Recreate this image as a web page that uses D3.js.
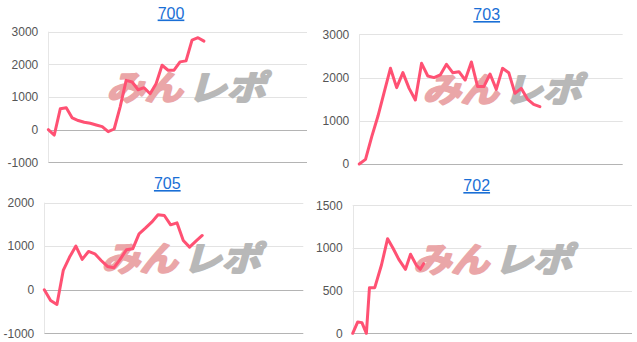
<!DOCTYPE html>
<html><head><meta charset="utf-8">
<script src="https://cdn.jsdelivr.net/npm/d3@7"></script>
<style>
html,body{margin:0;padding:0;background:#fff;}
svg{display:block;}
</style></head>
<body>
<svg id="c" width="637" height="342"></svg>
<script>
// ---- data ----
const titles = ["700", "703", "705", "702"];
const values700 = [0,-165,637,668,360,280,226,195,144,92,-62,20,700,1510,1460,1223,1285,1100,1408,1973,1820,1820,2076,2107,2744,2816,2713];
const values703 = [0,108,632,1110,1660,2213,1766,2113,1750,1480,2328,2036,1998,2059,2306,2113,2136,1943,2360,1790,1790,2082,1727,2213,2113,1635,1750,1503,1380,1326];
const values705 = [0,-245,-337,444,750,1003,697,880,826,673,536,505,697,919,941,1285,1415,1553,1721,1706,1492,1538,1132,979,1117,1247];
const values702 = [0,133,125,0,535,535,800,1109,1000,867,750,926,797,750,816];
const x702 = [0,1.8,3.3,4.9,6.0,7.9,10.3,12.5,14.4,16.5,18.9,20.7,22.8,24.2,25.4];
const ticks700 = [-1000,0,1000,2000,3000];
const ticks703 = [0,1000,2000,3000];
const ticks705 = [-1000,0,1000,2000];
const ticks702 = [0,500,1000,1500];

// ---- layout ----
const panels = [
  {title:titles[0], vals:values700, xs:values700.map((d,i)=>i), xMax:43.2, ticks:ticks700,
   l:48.3, r:307, t:31.7, b:162.3, tx:171, ty:18.5, wx:188, wy:88},
  {title:titles[1], vals:values703, xs:values703.map((d,i)=>i), xMax:42.3, ticks:ticks703,
   l:359.3, r:622.7, t:34.3, b:164, tx:486.7, ty:20, wx:504, wy:90},
  {title:titles[2], vals:values705, xs:values705.map((d,i)=>i), xMax:41.0, ticks:ticks705,
   l:44.3, r:303.3, t:202.7, b:333.3, tx:167.3, ty:189, wx:183, wy:258.5},
  {title:titles[3], vals:values702, xs:x702, xMax:100, ticks:ticks702,
   l:352.7, r:632, t:205.3, b:333.3, tx:476.7, ty:191, wx:494.5, wy:259.5}
];

const svg = d3.select("#c");
const font = "Arial, 'Liberation Sans', sans-serif";

panels.forEach(p => {
  const g = svg.append("g");
  const x = d3.scaleLinear().domain([0, p.xMax]).range([p.l, p.r]);
  const y = d3.scaleLinear().domain(d3.extent(p.ticks)).range([p.b, p.t]);

  // gridlines
  g.selectAll("line.grid").data(p.ticks).join("line")
    .attr("x1", p.l).attr("x2", p.r)
    .attr("y1", d=>Math.round(y(d))+0.5).attr("y2", d=>Math.round(y(d))+0.5)
    .attr("stroke", d => (d===0 || d===p.ticks[0]) ? "#b4b4b4" : "#e3e3e3")
    .attr("stroke-width", 1);
  // left axis line
  g.append("line").attr("x1", Math.round(p.l)+0.5).attr("x2", Math.round(p.l)+0.5)
    .attr("y1", p.t).attr("y2", p.b).attr("stroke", "#e6e6e6");

  // tick labels
  g.selectAll("text.tick").data(p.ticks).join("text")
    .attr("x", p.l - 10).attr("y", d=>y(d)).attr("dy", "0.35em")
    .attr("text-anchor", "end")
    .attr("font-family", font).attr("font-size", 12).attr("fill", "#555")
    .text(d=>d);

  // watermark
  const wm = g.append("g").attr("transform", `translate(${p.wx},${p.wy}) skewX(-16)`);
  wm.append("text").attr("x", -2).attr("y", 0).attr("dy", "0.36em")
    .attr("text-anchor", "end")
    .attr("font-family", "'Noto Sans CJK JP', sans-serif").attr("font-weight", 700)
    .attr("font-size", 34).attr("fill", "#eaa6a8")
    .attr("stroke", "#eaa6a8").attr("stroke-width", 2.2).attr("stroke-linejoin", "round")
    .attr("textLength", 76).attr("lengthAdjust", "spacingAndGlyphs")
    .text("みん");
  wm.append("text").attr("x", 3).attr("y", 0).attr("dy", "0.36em")
    .attr("text-anchor", "start")
    .attr("font-family", "'Noto Sans CJK JP', sans-serif").attr("font-weight", 700)
    .attr("font-size", 34).attr("fill", "#b8b8b8")
    .attr("stroke", "#b8b8b8").attr("stroke-width", 2.2).attr("stroke-linejoin", "round")
    .attr("textLength", 78).attr("lengthAdjust", "spacingAndGlyphs")
    .text("レポ");

  // line
  const line = d3.line().x((d,i)=>x(p.xs[i])).y(d=>y(d));
  g.append("path").datum(p.vals)
    .attr("d", line).attr("fill", "none")
    .attr("stroke", "#ff5173").attr("stroke-width", 3)
    .attr("stroke-linejoin", "round").attr("stroke-linecap", "round");

  // title
  g.append("text").attr("x", p.tx).attr("y", p.ty)
    .attr("text-anchor", "middle")
    .attr("font-family", font).attr("font-size", 16).attr("fill", "#1a6fd6")
    .attr("text-decoration", "underline")
    .text(p.title);
});
</script>
</body></html>
